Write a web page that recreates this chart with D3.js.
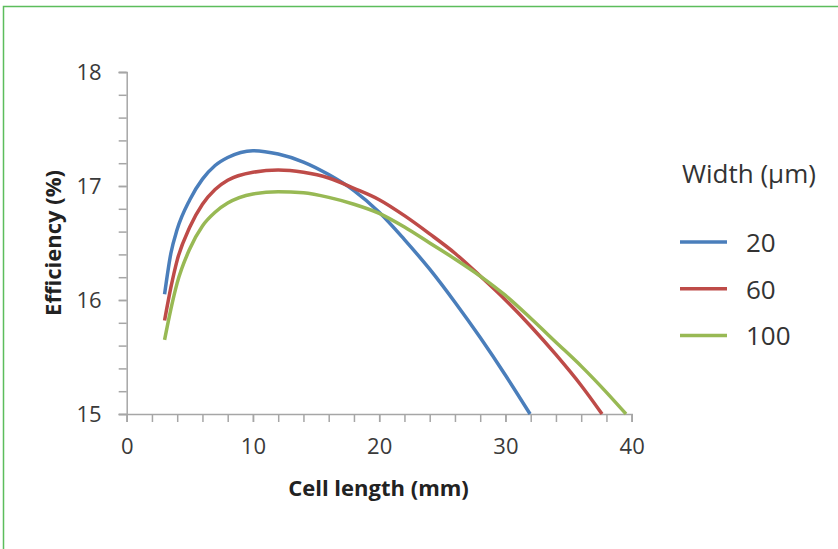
<html>
    <head>
        <title>Efficiency vs cell length</title>
        <style>
            body { margin: 0; background: #fff; }
        </style>
    </head>
    <body>

        <div id="chart-area"></div>

        <script src="https://d3js.org/d3.v7.min.js"></script>

        <script>

            // Data
            const widths = ["20", "60", "100"]
            const lengths20 = [3, 3.5, 4, 5, 6, 7, 8, 10, 12, 14, 16, 18, 20, 22, 24, 26, 28, 30, 31.95]
            const eff20 = [16.05, 16.41, 16.62, 16.88, 17.06, 17.18, 17.25, 17.31, 17.28, 17.21, 17.10, 16.96, 16.77, 16.53, 16.27, 15.98, 15.67, 15.34, 15.0]
            const lengths60 = [3, 3.5, 4, 5, 6, 7, 8, 10, 12, 14, 16, 18, 20, 22, 24, 26, 28, 30, 32, 34, 36, 37.65]
            const eff60 = [15.82, 16.11, 16.35, 16.64, 16.84, 16.97, 17.05, 17.12, 17.14, 17.12, 17.07, 16.98, 16.88, 16.74, 16.58, 16.41, 16.21, 16.00, 15.77, 15.52, 15.25, 15.0]
            const lengths100 = [3, 3.5, 4, 5, 6, 7, 8, 10, 12, 14, 16, 18, 20, 22, 24, 26, 28, 30, 32, 34, 36, 38, 39.55]
            const eff100 = [15.65, 15.92, 16.15, 16.45, 16.65, 16.77, 16.85, 16.93, 16.95, 16.94, 16.90, 16.84, 16.76, 16.64, 16.50, 16.36, 16.21, 16.04, 15.84, 15.63, 15.42, 15.19, 15.0]
            const xTicks = [0, 10, 20, 30, 40]
            const yTicks = [15, 16, 17, 18]

            const X0 = 126.7, X1 = 631.7
            const Y0 = 414, Y1 = 72
            const FONT = "'Open Sans', sans-serif"

            const color = d3.scaleOrdinal()
                            .domain(widths)
                            .range(["#4a7ebb", "#be4b48", "#98b954"])

            const series = [
                { w: "20", xs: lengths20, ys: eff20 },
                { w: "60", xs: lengths60, ys: eff60 },
                { w: "100", xs: lengths100, ys: eff100 }
            ]

            // svg + frame
            const svg = d3.select("#chart-area")
                    .append("svg")
                        .attr("width", 838)
                        .attr("height", 549)

            svg.append("path")
                .attr("d", "M3.5,549 V6.5 H838")
                .attr("fill", "none")
                .attr("stroke", "#5cbd5c")
                .attr("stroke-width", 1.5)

            // scales
            const x = d3.scaleLinear().domain([0, 40]).range([X0, X1])
            const y = d3.scaleLinear().domain([15, 18]).range([Y0, Y1])

            // axes (minor ticks first, then labelled major ticks)
            const axisColor = "#a6a6a6"

            svg.append("g")
                .attr("transform", `translate(0, ${Y0})`)
                .call(d3.axisBottom(x).tickValues(d3.range(0, 40.01, 2)).tickSize(8).tickFormat(""))
                .call(g => g.selectAll("line, path").attr("stroke", axisColor).attr("stroke-width", 1.5))

            svg.append("g")
                .attr("transform", `translate(${X0}, 0)`)
                .call(d3.axisLeft(y).tickValues(d3.range(0, 16).map(i => 15 + i * 0.2)).tickSize(8).tickFormat(""))
                .call(g => g.selectAll("line, path").attr("stroke", axisColor).attr("stroke-width", 1.5))

            svg.append("g")
                .attr("transform", `translate(0, ${Y0})`)
                .call(d3.axisBottom(x).tickValues(xTicks).tickSize(8).tickPadding(16).tickFormat(d3.format("d")))
                .call(g => g.select(".domain").remove())
                .call(g => g.selectAll("line").attr("stroke", axisColor).attr("stroke-width", 1.5))
                .selectAll("text")
                    .attr("font-size", "22px")
                    .attr("font-family", FONT)
                    .attr("fill", "#3a3a3a")

            svg.append("g")
                .attr("transform", `translate(${X0}, 0)`)
                .call(d3.axisLeft(y).tickValues(yTicks).tickSize(8).tickPadding(17).tickFormat(d3.format("d")))
                .call(g => g.select(".domain").remove())
                .call(g => g.selectAll("line").attr("stroke", axisColor).attr("stroke-width", 1.5))
                .selectAll("text")
                    .attr("font-size", "22px")
                    .attr("font-family", FONT)
                    .attr("fill", "#3a3a3a")

            // axis titles
            svg.append("text")
                .attr("x", 378.5)
                .attr("y", 496)
                .attr("text-anchor", "middle")
                .attr("font-size", "22px")
                .attr("font-weight", "bold")
                .attr("font-family", FONT)
                .attr("fill", "#222")
                .text("Cell length (mm)")

            svg.append("text")
                .attr("transform", "translate(61, 243) rotate(-90)")
                .attr("text-anchor", "middle")
                .attr("font-size", "22px")
                .attr("font-weight", "bold")
                .attr("font-family", FONT)
                .attr("fill", "#222")
                .text("Efficiency (%)")

            // lines
            const line = d3.line()
                .x(d => x(d[0]))
                .y(d => y(d[1]))
                .curve(d3.curveMonotoneX)

            svg.selectAll(".series")
                .data(series).enter()
                .append("path")
                    .attr("class", "series")
                    .attr("d", s => line(s.xs.map((v, i) => [v, s.ys[i]])))
                    .attr("fill", "none")
                    .attr("stroke", s => color(s.w))
                    .attr("stroke-width", 3.5)

            // legend
            const legend = svg.append("g")
                        .attr("transform", "translate(682, 0)")

            legend.append("text")
                .attr("x", 0)
                .attr("y", 183)
                .attr("font-size", "26px")
                .attr("font-family", FONT)
                .attr("fill", "#333")
                .text("Width (\u00b5m)")

            widths.forEach((w, i) => {
                const row = legend.append("g")
                    .attr("transform", `translate(0, ${242 + i * 46.7})`)

                row.append("line")
                    .attr("x1", -2)
                    .attr("x2", 45)
                    .attr("stroke", color(w))
                    .attr("stroke-width", 3.5)

                row.append("text")
                    .attr("x", 64)
                    .attr("y", 10)
                    .attr("font-size", "26px")
                    .attr("font-family", FONT)
                    .attr("fill", "#333")
                    .text(w)
            })

        </script>
    </body>
</html>
